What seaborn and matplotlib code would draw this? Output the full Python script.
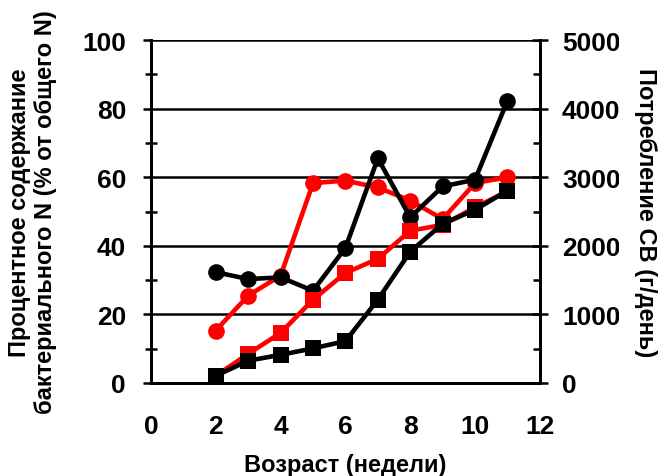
import numpy as np
import pandas as pd
import matplotlib
matplotlib.use("Agg")
import matplotlib.pyplot as plt
from matplotlib.ticker import MultipleLocator
from matplotlib.transforms import Bbox
import seaborn as sns

weeks = [2, 3, 4, 5, 6, 7, 8, 9, 10, 11]
# % bacterial N (left axis)
black_circles = [32.3, 30.3, 30.8, 26.9, 39.4, 65.5, 48.3, 57.3, 59.3, 82.3]
red_circles = [15.3, 25.5, 31.3, 58.3, 59.0, 57.0, 53.2, 47.8, 58.3, 60.0]
# DM intake, g/day (right axis)
red_squares = [105, 425, 730, 1215, 1605, 1810, 2220, 2305, 2560, 2795]
black_squares = [105, 325, 410, 505, 610, 1215, 1915, 2320, 2525, 2805]

sns.set_style("white")
plt.rcParams["font.family"] = ["Liberation Sans", "DejaVu Sans"]
plt.rcParams["text.color"] = "black"
plt.rcParams["axes.labelcolor"] = "black"
plt.rcParams["xtick.color"] = "black"
plt.rcParams["ytick.color"] = "black"

fig = plt.figure(figsize=(6.58, 4.77), dpi=100)
ax = fig.add_axes([0.2295, 0.195, 0.591, 0.719])
ax2 = ax.twinx()

lw = 3.3
ms = 12
sns.lineplot(x=weeks, y=red_circles, ax=ax, color="red", marker="o", markersize=ms,
             markeredgewidth=0, linewidth=lw, zorder=3)
sns.lineplot(x=weeks, y=black_circles, ax=ax, color="black", marker="o", markersize=ms,
             markeredgewidth=0, linewidth=lw, zorder=4)
sns.lineplot(x=weeks, y=red_squares, ax=ax2, color="red", marker="s", markersize=ms,
             markeredgewidth=0, linewidth=lw, zorder=5)
sns.lineplot(x=weeks, y=black_squares, ax=ax2, color="black", marker="s", markersize=ms,
             markeredgewidth=0, linewidth=lw, zorder=6)

ax.set_xlim(0, 12)
ax.set_ylim(0, 100)
ax2.set_ylim(0, 5000)

ax.xaxis.set_major_locator(MultipleLocator(2))
ax.xaxis.set_minor_locator(MultipleLocator(1))
ax.yaxis.set_major_locator(MultipleLocator(20))
ax.yaxis.set_minor_locator(MultipleLocator(10))
ax2.yaxis.set_major_locator(MultipleLocator(1000))
ax2.yaxis.set_minor_locator(MultipleLocator(500))

for a in (ax, ax2):
    for s in a.spines.values():
        s.set_linewidth(2)
        s.set_color("black")
ax.spines["top"].set_visible(False)
ax2.spines["top"].set_visible(False)

ax.yaxis.grid(True, which="major", color="black", linewidth=1.8)
ax.set_axisbelow(True)

fs = 19
ax.tick_params(axis="x", which="major", direction="out", length=6, width=1.8, pad=16, labelsize=fs)
ax.tick_params(axis="x", which="minor", direction="out", length=4, width=1.8)
ax.tick_params(axis="y", which="major", direction="out", length=6, width=1.8, pad=12, labelsize=fs)
ax.tick_params(axis="y", which="minor", direction="inout", length=8, width=1.8)
ax2.tick_params(axis="y", which="major", direction="inout", length=12, width=1.8, pad=10, labelsize=fs)
ax2.tick_params(axis="y", which="minor", direction="in", length=5, width=1.8)
for lab in ax.get_xticklabels() + ax.get_yticklabels() + ax2.get_yticklabels():
    lab.set_fontweight("bold")

ax.set_xlabel("Возраст (недели)", fontsize=17, fontweight="bold", labelpad=11)
ax.set_ylabel("Процентное содержание\nбактериального N (% от общего N)", fontsize=17,
              fontweight="bold", labelpad=18)
ax2.set_ylabel("Потребление СВ (г/день)", fontsize=17, fontweight="bold",
               rotation=270, labelpad=26)

# right tick labels are cut off in the original
fig.canvas.draw()
clip = Bbox.from_extents(0, 0, 619, 477)
for lab in ax2.yaxis.get_majorticklabels():
    lab.set_clip_box(clip)
    lab.set_clip_on(True)

fig.savefig("out.png", dpi=100)
